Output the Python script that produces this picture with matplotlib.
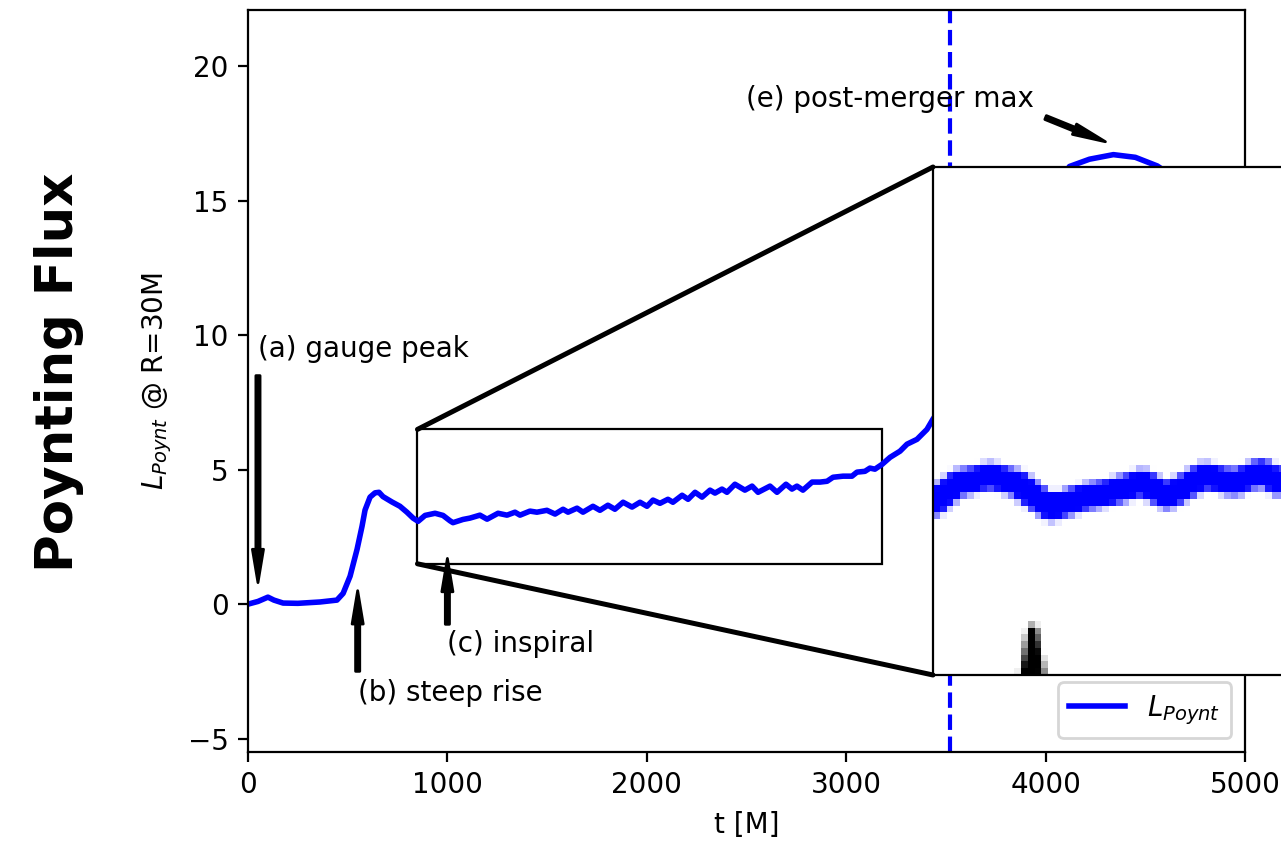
import numpy as np
import matplotlib
matplotlib.use('Agg')
import matplotlib.pyplot as plt
from matplotlib.patches import Rectangle, ConnectionPatch

# Poynting luminosity extracted at R=30M
t = [0, 50, 100, 130, 176, 250, 361, 446, 477, 512, 547, 572, 587, 612, 637, 657, 677,
     722, 762, 797, 828, 853, 888, 938, 978, 1013, 1028, 1078, 1113, 1163, 1199, 1254,
     1299, 1339, 1364, 1414, 1449, 1499, 1540, 1580, 1605, 1650, 1680, 1730, 1765, 1805,
     1840, 1881, 1926, 1966, 2001, 2031, 2066, 2106, 2131, 2177, 2207, 2242, 2277, 2317,
     2342, 2377, 2402, 2442, 2492, 2528, 2558, 2618, 2653, 2698, 2728, 2753, 2783, 2829,
     2869, 2904, 2934, 2984, 3029, 3054, 3094, 3119, 3144, 3180, 3220, 3270, 3305, 3355,
     3405, 3435, 3500, 3600, 3700, 3800, 3900, 4000, 4120, 4220, 4340, 4450, 4560, 4700,
     4850, 5000]
L_poynt = [0.0, 0.1, 0.26, 0.15, 0.04, 0.03, 0.08, 0.15, 0.4, 1.04, 2.04, 2.9, 3.5, 3.98,
           4.14, 4.16, 4.0, 3.8, 3.64, 3.42, 3.2, 3.08, 3.3, 3.38, 3.3, 3.1, 3.03, 3.15,
           3.2, 3.31, 3.16, 3.38, 3.31, 3.42, 3.31, 3.46, 3.42, 3.49, 3.35, 3.53, 3.42,
           3.57, 3.42, 3.64, 3.49, 3.68, 3.53, 3.79, 3.61, 3.79, 3.64, 3.87, 3.75, 3.9,
           3.79, 4.05, 3.9, 4.16, 3.98, 4.24, 4.13, 4.28, 4.16, 4.46, 4.24, 4.39, 4.16,
           4.39, 4.16, 4.46, 4.28, 4.39, 4.24, 4.54, 4.54, 4.57, 4.72, 4.76, 4.76, 4.91,
           4.94, 5.06, 5.02, 5.2, 5.46, 5.69, 5.95, 6.13, 6.5, 6.88, 7.6, 9.0, 10.6, 12.2,
           13.6, 15.0, 16.28, 16.55, 16.72, 16.62, 16.3, 15.6, 14.8, 14.2]

t_merger = 3520

# zoom box on the inspiral, and the patch grabbed for the magnified view
zoom_t = (850, 3180)
zoom_L = (1.5, 6.5)
grab_L = (1.2, 6.8)

notes = ['(a) gauge peak', '(b) steep rise', '(c) inspiral', '(e) post-merger max']
note_pos = [(50, 9.5), (550, -3.3), (1000, -1.5), (2500, 18.8)]
arrow_from = [(50, 8.5), (550, -2.5), (1000, -0.75), (4000, 18.1)]
arrow_to = [(50, 0.8), (550, 0.5), (1000, 1.7), (4300, 17.2)]

W, H = 1281, 850
fig = plt.figure(figsize=(W / 200, H / 200), dpi=100)
ax = fig.add_axes([248 / W, 1 - 752 / H, 997 / W, 742 / H])

line, = ax.plot(t, L_poynt, color='blue', lw=2, label=r'$L_{Poynt}$')
ax.axvline(t_merger, color='blue', ls='--', lw=1.5)
ax.set_xlim(0, 5000)
ax.set_ylim(-5.5, 22.1)
ax.set_xlabel('t [M]')
ax.set_ylabel(r'$L_{Poynt}$ @ R=30M')
ax.yaxis.set_label_coords(-0.074, 0.5)

for txt, pos in zip(notes, note_pos):
    ax.text(pos[0], pos[1], txt, ha='left', va='center')
for a, b in zip(arrow_from, arrow_to):
    ax.annotate('', xy=b, xytext=a,
                arrowprops=dict(facecolor='black', edgecolor='black', width=1.5,
                                headwidth=4, headlength=12, shrink=0))

ax.legend(loc='lower right')
fig.text(0.046, 0.562, 'Poynting Flux', rotation=90, fontsize=18.5,
         fontweight='bold', ha='center', va='center')

# grab the rendered pixels around the inspiral for the magnified view
line.set_linewidth(2.8)
fig.canvas.draw()
buf = np.asarray(fig.canvas.buffer_rgba()).copy()
line.set_linewidth(2)
(px0, py0), (px1, py1) = ax.transData.transform([(zoom_t[0], grab_L[0]),
                                                  (zoom_t[1], grab_L[1])])
nrow = buf.shape[0]
crop = buf[int(round(nrow - py1)):int(round(nrow - py0)),
           int(round(px0)):int(round(px1))]

ax.add_patch(Rectangle((zoom_t[0], zoom_L[0]), zoom_t[1] - zoom_t[0],
                       zoom_L[1] - zoom_L[0], fill=False, ec='black', lw=0.8))

ins_h = 508 / H
ins_w = crop.shape[1] / crop.shape[0] * 508 / W
axins = fig.add_axes([933 / W, 1 - 675 / H, ins_w, ins_h])
axins.imshow(crop, interpolation='nearest', aspect='auto')
axins.set_xticks([])
axins.set_yticks([])

for yA, yB in [(zoom_L[1], 1), (zoom_L[0], 0)]:
    con = ConnectionPatch(xyA=(zoom_t[0], yA), coordsA=ax.transData,
                          xyB=(0, yB), coordsB=axins.transAxes,
                          color='black', lw=1.8)
    fig.add_artist(con)

fig.savefig('out.png', dpi=200)
